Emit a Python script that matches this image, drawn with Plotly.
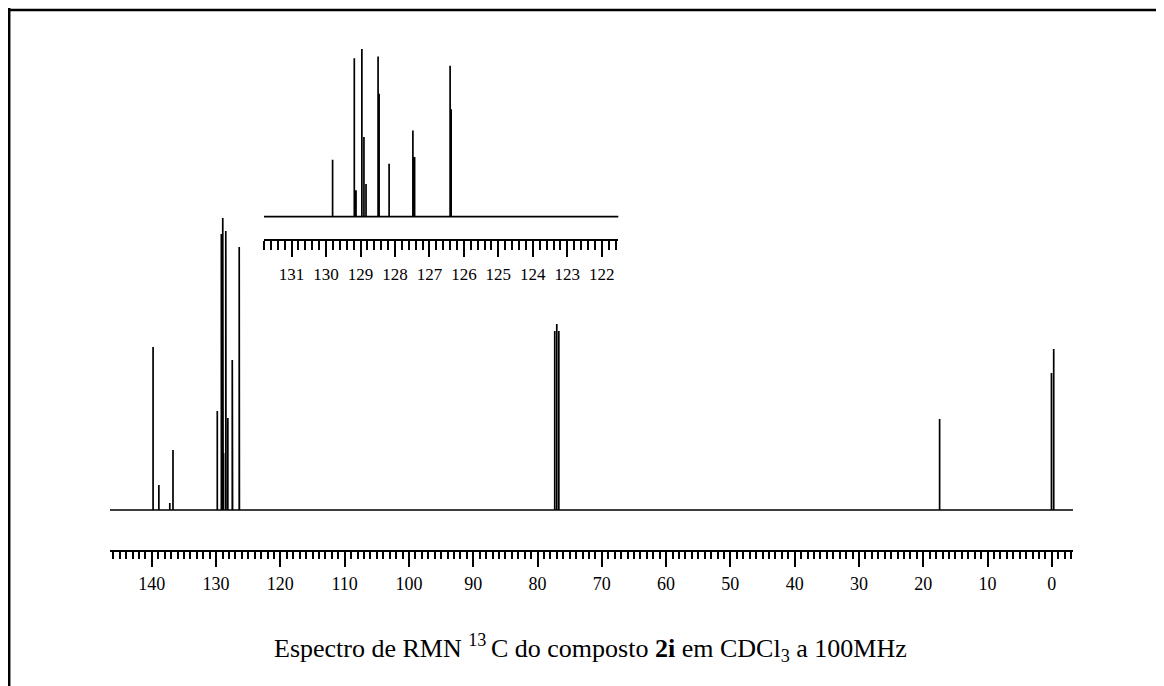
import plotly.graph_objects as go

# Peak list: chemical shift (ppm) and intensity (arbitrary units)
peak_ppm = [139.8, 138.9, 137.2, 136.7,
            129.81, 129.18, 129.13, 128.96, 128.90, 128.84,
            128.49, 128.46, 128.17, 127.48, 127.43, 126.40, 126.37,
            77.32, 77.00, 76.68,
            17.45, 0.05, -0.30]
peak_int = [163, 25, 7, 60,
            99, 276, 46, 292, 139, 57,
            279, 214, 92, 150, 104, 263, 187,
            179, 186, 179,
            91, 137, 161]

main_ticks = [140, 130, 120, 110, 100, 90, 80, 70, 60, 50, 40, 30, 20, 10, 0]
inset_ticks = [131, 130, 129, 128, 127, 126, 125, 124, 123, 122]

main_range = [146.5, -3.3]
inset_range = [131.8, 121.52]

OFF = 8  # page body margin
W, H = 1164 - OFF, 686 - OFF

# Build a stick spectrum line from the peak list
order = sorted(range(len(peak_ppm)), key=lambda i: -peak_ppm[i])
xs, ys = [main_range[0]], [0]
for i in order:
    xs += [peak_ppm[i], peak_ppm[i], peak_ppm[i]]
    ys += [0, peak_int[i], 0]
xs.append(main_range[1]); ys.append(0)

fig = go.Figure()
line = dict(color="black", width=1.7)
fig.add_trace(go.Scatter(x=xs, y=ys, mode="lines", line=line, xaxis="x", yaxis="y",
                         hoverinfo="skip", showlegend=False))
fig.add_trace(go.Scatter(x=xs, y=ys, mode="lines", line=line, xaxis="x2", yaxis="y2",
                         hoverinfo="skip", showlegend=False))

def px_x(p):
    return (p - OFF) / W

def px_y(p):
    return (H - (p - OFF)) / H

tickfont = dict(family="Liberation Serif", size=18, color="black")

fig.update_layout(
    width=W, height=H,
    margin=dict(l=0, r=0, t=0, b=0),
    paper_bgcolor="white", plot_bgcolor="rgba(0,0,0,0)",
    xaxis=dict(domain=[px_x(110), px_x(1073)], range=main_range, anchor="y",
               showgrid=False, zeroline=False, showline=True, linecolor="black", linewidth=2,
               ticks="outside", ticklen=15, tickwidth=2, tickcolor="black",
               tickvals=main_ticks, ticktext=[str(t) for t in main_ticks],
               tickfont=tickfont, ticklabelstandoff=1,
               minor=dict(dtick=1, tick0=0, ticks="outside", ticklen=7, tickwidth=1.5,
                          tickcolor="black", showgrid=False)),
    yaxis=dict(domain=[px_y(550), px_y(200)], range=[-40, 310], visible=False,
               showgrid=False, zeroline=False),
    xaxis2=dict(domain=[px_x(264), px_x(618.3)], range=inset_range, anchor="y2",
                showgrid=False, zeroline=False, showline=True, linecolor="black", linewidth=2,
                ticks="outside", ticklen=16, tickwidth=2, tickcolor="black",
                tickvals=inset_ticks, ticktext=[str(t) for t in inset_ticks],
                tickfont=dict(family="Liberation Serif", size=17, color="black"),
                ticklabelstandoff=2,
                minor=dict(dtick=0.2, tick0=0, ticks="outside", ticklen=9, tickwidth=1.5,
                           tickcolor="black", showgrid=False)),
    yaxis2=dict(domain=[px_y(239.3), px_y(40)], range=[-39.35, 307.7], visible=False,
                showgrid=False, zeroline=False),
    shapes=[
        dict(type="line", xref="paper", yref="paper", x0=1.2 / W, x1=1.2 / W, y0=0, y1=1,
             line=dict(color="black", width=2.5)),
        dict(type="line", xref="paper", yref="paper", x0=px_x(1162), x1=px_x(1162), y0=0, y1=1,
             line=dict(color="black", width=2.5)),
        dict(type="line", xref="paper", yref="paper", x0=0, x1=1, y0=px_y(10), y1=px_y(10),
             line=dict(color="black", width=2.5)),
    ],
    annotations=[
        dict(text="Espectro de RMN <sup>13 </sup>C do composto <b>2i</b> em CDCl<sub>3</sub> a 100MHz",
             xref="paper", yref="paper", x=px_x(590), y=px_y(648), showarrow=False,
             xanchor="center", yanchor="middle",
             font=dict(family="Liberation Serif", size=26, color="black")),
    ],
)

fig.write_html("out.html")
